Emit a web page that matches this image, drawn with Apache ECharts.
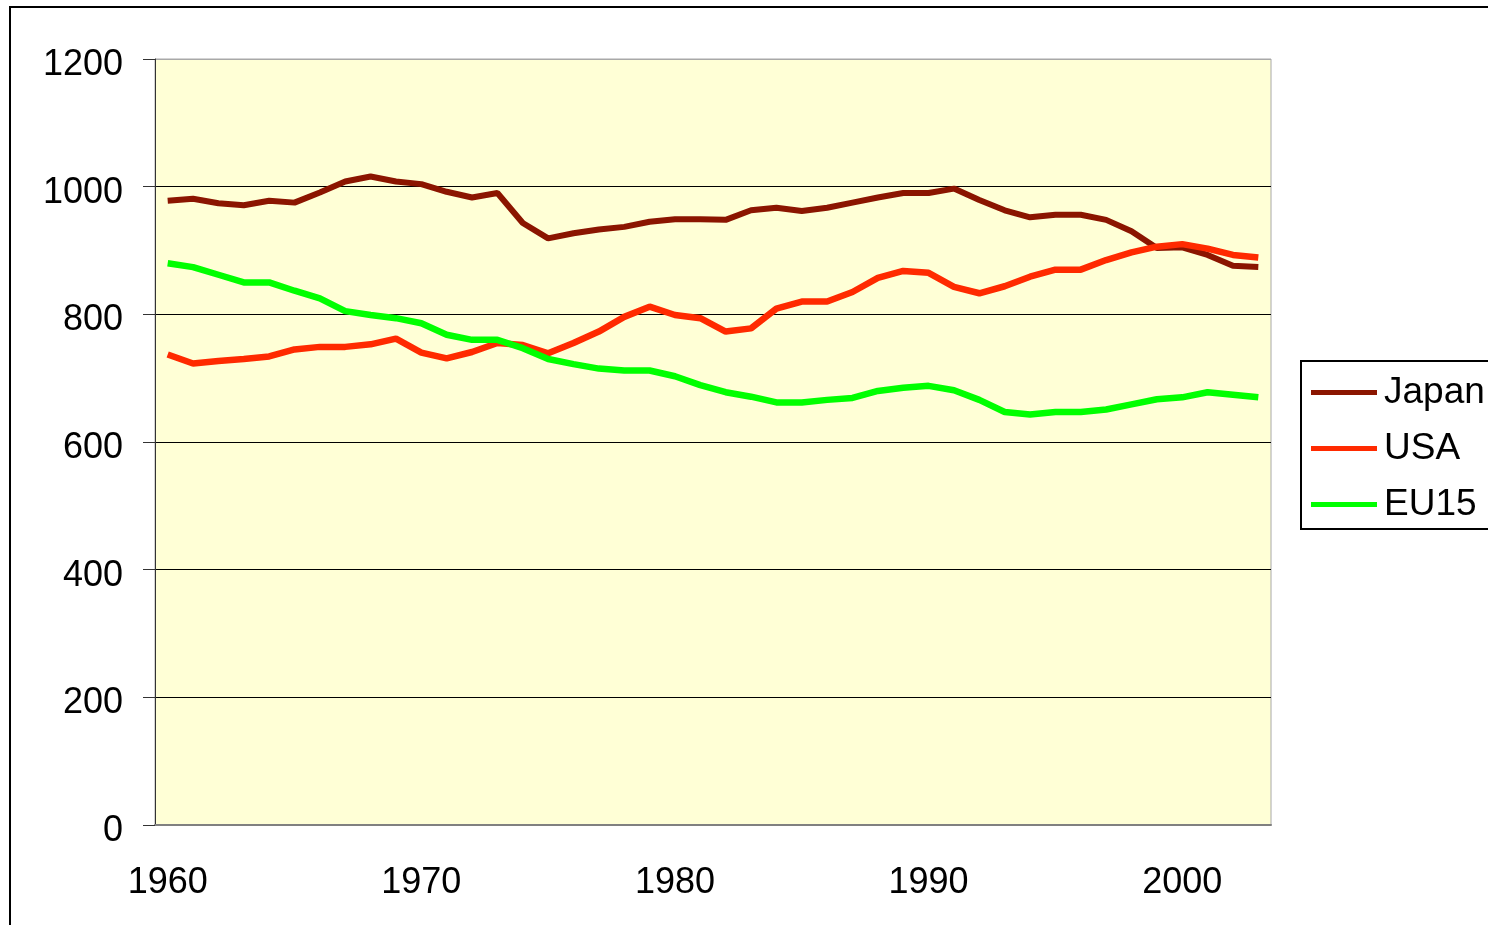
<!DOCTYPE html>
<html>
<head>
<meta charset="utf-8">
<script src="https://cdn.jsdelivr.net/npm/echarts@6/dist/echarts.min.js"></script>
<style>
    html, body { margin: 0; padding: 0; background: #fff; overflow: hidden; }
    #frame { position: absolute; left: 9px; top: 6px; width: 1520px; height: 960px; border: 2px solid #000; }
    #main { position: absolute; left: 0; top: 0; width: 1488px; height: 925px; }
</style>
</head>
<body>
<div id="frame"></div>
<div id="main"></div>
<script>
    // years on the x axis
    var years = ['1960','1961','1962','1963','1964','1965','1966','1967','1968','1969',
                 '1970','1971','1972','1973','1974','1975','1976','1977','1978','1979',
                 '1980','1981','1982','1983','1984','1985','1986','1987','1988','1989',
                 '1990','1991','1992','1993','1994','1995','1996','1997','1998','1999',
                 '2000','2001','2002','2003'];

    var japan = [978, 981, 974, 971, 978, 975, 991, 1008, 1016, 1008,
                 1004, 992, 983, 990, 943, 919, 927, 933, 937, 945,
                 949, 949, 948, 963, 967, 962, 967, 975, 983, 990,
                 990, 997, 979, 963, 952, 956, 956, 948, 930, 904,
                 905, 893, 876, 874];

    var usa = [737, 723, 727, 730, 734, 745, 749, 749, 753, 762,
               740, 731, 741, 755, 752, 739, 755, 773, 796, 812,
               799, 794, 773, 778, 809, 820, 820, 835, 857, 868,
               865, 843, 833, 844, 859, 870, 870, 885, 897, 906,
               910, 903, 893, 889];

    var eu15 = [880, 874, 862, 850, 850, 837, 825, 805, 799, 794,
                786, 768, 760, 760, 747, 730, 722, 715, 712, 712,
                703, 689, 678, 671, 662, 662, 666, 669, 680, 685,
                688, 681, 666, 647, 643, 647, 647, 651, 659, 667,
                670, 678, 674, 670];

    var yTicks = [0, 200, 400, 600, 800, 1000, 1200];

    var myChart = echarts.init(document.getElementById('main'));
    var font = 'Liberation Sans, Arial, sans-serif';
    var option;

    option = {
        animation: false,
        grid: {
            left: 155,
            top: 59,
            right: 217,
            bottom: 100,
            show: true,
            backgroundColor: '#FFFFD6',
            borderColor: '#a8a8a8',
            borderWidth: 1
        },
        legend: {
            orient: 'vertical',
            left: 1301,
            top: 361,
            padding: [13, 10, 6, 10],
            itemGap: 19,
            itemWidth: 66,
            itemHeight: 5,
            icon: 'rect',
            borderColor: '#000',
            borderWidth: 2,
            textStyle: { fontFamily: font, fontSize: 37, color: '#000', padding: [0, 0, 0, 2] },
            data: ['Japan', 'USA', 'EU15']
        },
        xAxis: {
            type: 'category',
            boundaryGap: true,
            data: years,
            axisLine: { lineStyle: { color: '#808080', width: 2 } },
            axisTick: { interval: 4, length: 12, lineStyle: { color: '#555' } },
            axisLabel: { interval: 9, margin: 40, fontFamily: font, fontSize: 36, color: '#000' },
            splitLine: { show: false }
        },
        yAxis: {
            type: 'value',
            min: yTicks[0],
            max: yTicks[yTicks.length - 1],
            interval: 200,
            axisLine: { show: true, lineStyle: { color: '#333' } },
            axisTick: { show: true, length: 12, lineStyle: { color: '#333' } },
            axisLabel: {
                margin: 32,
                verticalAlign: 'top',
                formatter: function (v) { return '{n|' + v + '}'; },
                rich: {
                    n: { fontFamily: font, fontSize: 36, color: '#000', lineHeight: 36, padding: [-24, 0, 0, 0] }
                }
            },
            splitLine: { lineStyle: { color: ['#000', '#000', '#000', '#000', '#000', '#000', '#a8a8a8'], width: 1 } }
        },
        series: [
            {
                name: 'Japan',
                type: 'line',
                data: japan,
                showSymbol: false,
                color: '#8B1500',
                lineStyle: { width: 6, color: '#8B1500' }
            },
            {
                name: 'USA',
                type: 'line',
                data: usa,
                showSymbol: false,
                color: '#FF2A00',
                lineStyle: { width: 6.5, color: '#FF2A00' }
            },
            {
                name: 'EU15',
                type: 'line',
                data: eu15,
                showSymbol: false,
                color: '#00FF00',
                lineStyle: { width: 6.5, color: '#00FF00' }
            }
        ]
    };

    option && myChart.setOption(option);
</script>
</body>
</html>
